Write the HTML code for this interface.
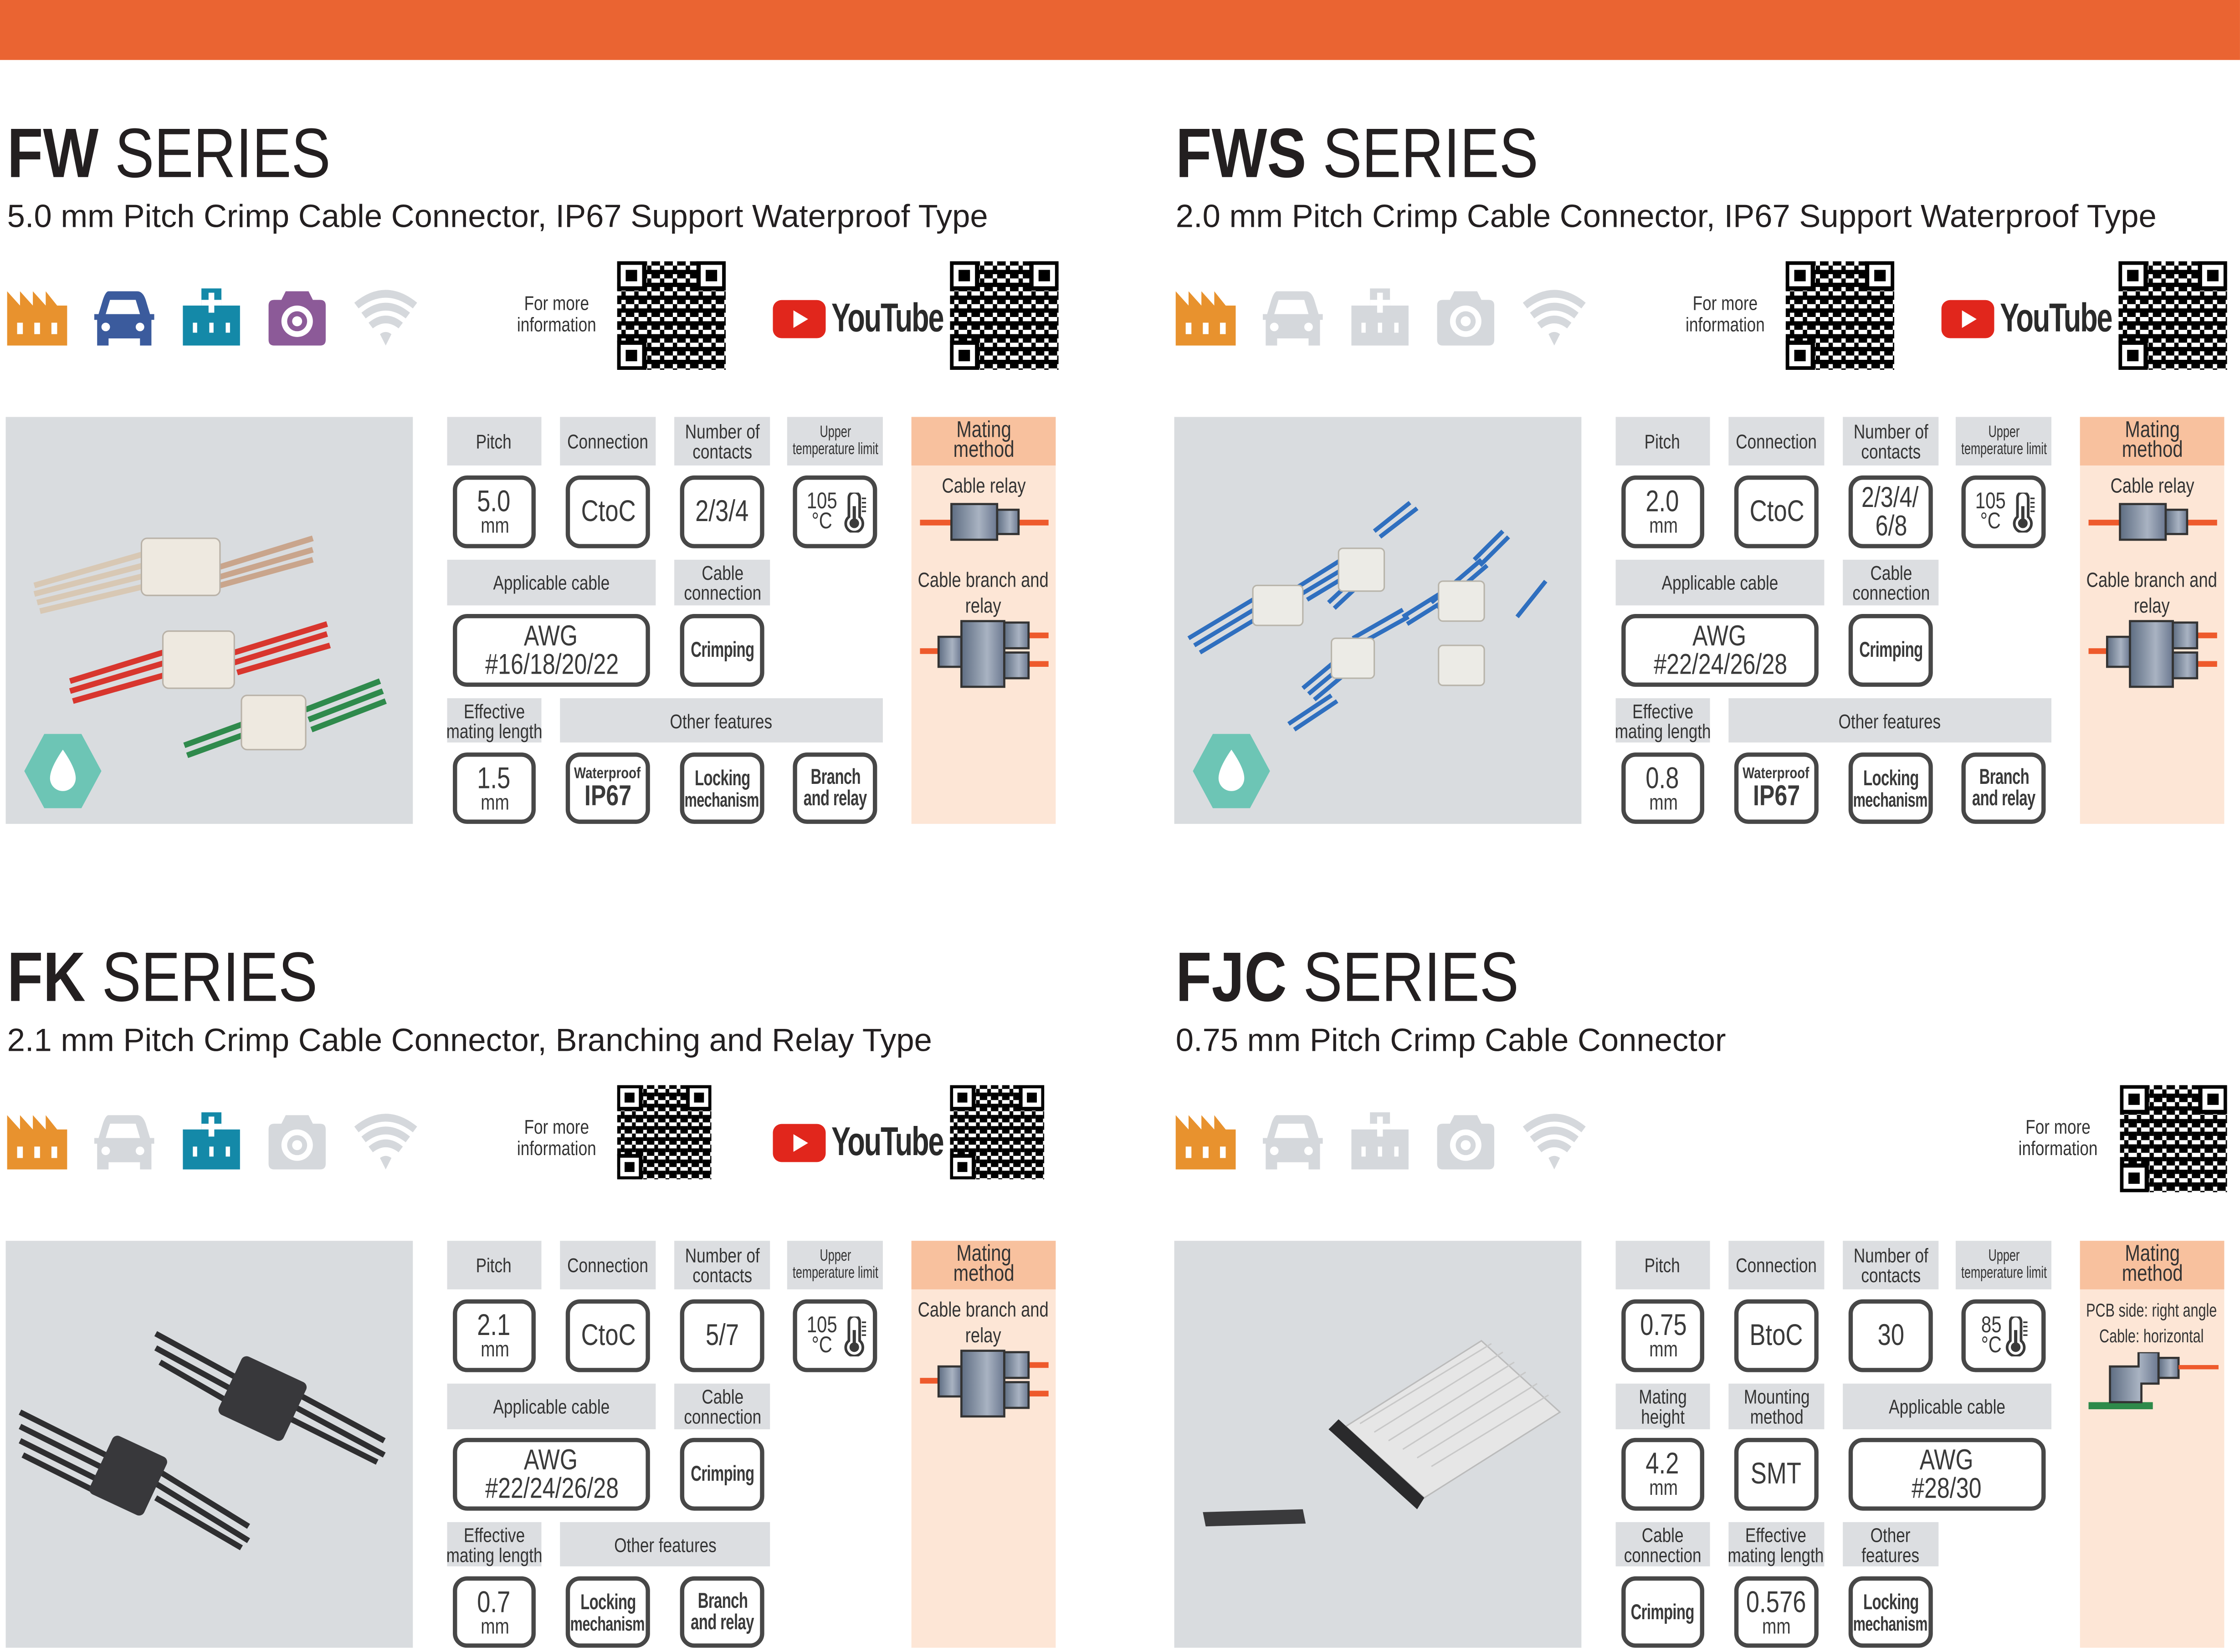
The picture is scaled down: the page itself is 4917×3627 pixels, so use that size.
<!DOCTYPE html>
<html><head><meta charset="utf-8">
<style>
html,body{margin:0;padding:0;background:#fff;width:4917px;height:3624px;overflow:hidden}
#w{position:absolute;left:0;top:0;width:1568px;height:1156px;transform:scale(3.1358,3.1349);transform-origin:0 0;font-family:"Liberation Sans Narrow","Liberation Sans",sans-serif;color:#333}
.s{position:absolute;width:750px;height:580px}
.a{position:absolute}
.t{position:absolute;left:5px;top:80px;font-family:"Liberation Sans",sans-serif;font-size:49px;line-height:56px;color:#231f20;white-space:nowrap;transform:scaleX(.84);transform-origin:0 0}
.st{position:absolute;left:5px;top:139px;font-family:"Liberation Sans",sans-serif;font-size:22.5px;line-height:26px;color:#231f20;white-space:nowrap}
.h{position:absolute;background:#dcdee1;display:flex;flex-direction:column;align-items:center;justify-content:center;text-align:center;font-size:14px;line-height:14px;color:#333}
.h.sm{font-size:11.5px;line-height:12px}
.h>span,.v>span,.mt>span,.fm>span,.mh>span{display:inline-block;white-space:nowrap;transform:scaleX(.8)}
.v{position:absolute;border:3px solid #474747;border-radius:10px;box-sizing:border-box;background:#fff;display:flex;flex-direction:column;align-items:center;justify-content:center;text-align:center;color:#3a3a3a;line-height:1}
.b{font-size:21px}.mm{font-size:15px;margin-top:-1px}
.c{font-size:15px;font-weight:bold;letter-spacing:-.3px}
.v>span.c{transform:scaleX(.7)}
.m{position:absolute;background:#fde6d6}
.mh{position:absolute;background:#f8c19e;display:flex;flex-direction:column;align-items:center;justify-content:center;font-size:16px;line-height:14px;text-align:center}
.mt{position:absolute;display:flex;justify-content:center;text-align:center;font-size:14.5px;line-height:18px;color:#333}
.fm{position:absolute;display:flex;justify-content:center;font-size:14px;line-height:15px;color:#333}
.ph{position:absolute;background:#d9dcdf}
.ic{position:absolute;width:44px;height:44px}
.yt{position:absolute;display:flex;align-items:center}
.yt span{display:inline-block;font-family:"Liberation Sans Narrow","Liberation Sans",sans-serif;font-weight:bold;font-size:28px;color:#2a2a2a;letter-spacing:-1px;margin-left:4px;transform:scaleX(.72);transform-origin:0 50%}
</style></head><body>
<div id="w">
<svg width="0" height="0" style="position:absolute">
<defs>
<symbol id="fac" viewBox="0 0 44 44"><path d="M1 42V4l9 10V4l9 10V4l9 10V4l8 10H43V42Z"/><rect x="8" y="26" width="4" height="8" fill="#fff"/><rect x="20" y="26" width="4" height="8" fill="#fff"/><rect x="32" y="26" width="4" height="8" fill="#fff"/></symbol>
<symbol id="car" viewBox="0 0 44 44"><path d="M12 4h20q4 0 6 6l3 10h3v4h-2v18h-8v-5H12v5H4V24H2v-4h3l3-10q2-6 4-6Z"/><path d="M13 10h18l3 10H10Z" fill="#fff"/><ellipse cx="10" cy="29" rx="3" ry="3" fill="#fff"/><ellipse cx="34" cy="29" rx="3" ry="3" fill="#fff"/></symbol>
<symbol id="hos" viewBox="0 0 44 44"><path d="M15 2h14v12h13v28H2V14h13Z"/><rect x="20" y="5" width="4" height="14" fill="#fff"/><rect x="15" y="10" width="14" height="4" fill="#fff"/><rect x="9" y="26" width="3" height="7" fill="#fff"/><rect x="20.5" y="26" width="3" height="7" fill="#fff"/><rect x="32" y="26" width="3" height="7" fill="#fff"/></symbol>
<symbol id="cam" viewBox="0 0 44 44"><path d="M14 4h16l3 6h5q4 0 4 4v24q0 4-4 4H6q-4 0-4-4V14q0-4 4-4h5Z"/><circle cx="22" cy="25" r="11" fill="#fff"/><circle cx="22" cy="25" r="7"/><circle cx="22" cy="25" r="3.5" fill="#fff"/></symbol>
<symbol id="wifi" viewBox="0 0 44 44"><path d="M22 42l-4-8q4-3 8 0Z"/><path d="M10 26q12-10 24 0l-3 4q-9-7-18 0Z"/><path d="M5 19q17-14 34 0l-3 4q-14-11-28 0Z"/><path d="M0 12q22-18 44 0l-3 4q-19-15-38 0Z"/></symbol>
<pattern id="qrp" width="9" height="9" patternUnits="userSpaceOnUse"><rect width="9" height="9" fill="#fff"/><rect x="0" y="0" width="3" height="3" fill="#000"/><rect x="3" y="3" width="3" height="6" fill="#000"/><rect x="6" y="0" width="3" height="3" fill="#000"/><rect x="0" y="6" width="3" height="3" fill="#000"/><rect x="6" y="6" width="3" height="3" fill="#000"/></pattern>
<symbol id="qr" viewBox="0 0 76 76"><rect width="76" height="76" fill="url(#qrp)"/><g><rect x="0" y="0" width="20" height="20" fill="#fff"/><rect x="1" y="1" width="18" height="18" fill="none" stroke="#000" stroke-width="3"/><rect x="6" y="6" width="8" height="8"/><rect x="56" y="0" width="20" height="20" fill="#fff"/><rect x="57" y="1" width="18" height="18" fill="none" stroke="#000" stroke-width="3"/><rect x="62" y="6" width="8" height="8"/><rect x="0" y="56" width="20" height="20" fill="#fff"/><rect x="1" y="57" width="18" height="18" fill="none" stroke="#000" stroke-width="3"/><rect x="6" y="62" width="8" height="8"/></g></symbol>
<symbol id="therm" viewBox="0 0 24 36"><path d="M7 4a5 5 0 0 1 10 0v18a8 8 0 1 1-10 0Z" fill="#fff" stroke="#3a3a3a" stroke-width="2.5"/><circle cx="12" cy="28" r="4.5" fill="#3a3a3a"/><rect x="10.5" y="12" width="3" height="14" fill="#3a3a3a"/><rect x="19" y="4" width="4" height="1.5" fill="#3a3a3a"/><rect x="19" y="8" width="4" height="1.5" fill="#3a3a3a"/><rect x="19" y="12" width="4" height="1.5" fill="#3a3a3a"/><rect x="19" y="16" width="4" height="1.5" fill="#3a3a3a"/></symbol>
<linearGradient id="bx" x1="0" x2="1"><stop offset="0" stop-color="#5e6d82"/><stop offset=".6" stop-color="#a9b3c2"/><stop offset="1" stop-color="#6b7890"/></linearGradient>
<symbol id="relay" viewBox="0 0 100 30"><rect x="5" y="13" width="90" height="4" fill="#ee5a2c"/><rect x="27" y="2" width="32" height="25" fill="url(#bx)" stroke="#333" stroke-width="1.5"/><rect x="59" y="6" width="15" height="17" fill="url(#bx)" stroke="#333" stroke-width="1.5"/></symbol>
<symbol id="branch" viewBox="0 0 100 50"><rect x="5" y="20" width="20" height="4" fill="#ee5a2c"/><rect x="75" y="9" width="20" height="4" fill="#ee5a2c"/><rect x="75" y="29" width="20" height="4" fill="#ee5a2c"/><rect x="18" y="12" width="16" height="21" fill="url(#bx)" stroke="#333" stroke-width="1.5"/><rect x="34" y="1" width="30" height="46" fill="url(#bx)" stroke="#333" stroke-width="1.5"/><rect x="64" y="2" width="17" height="18" fill="url(#bx)" stroke="#333" stroke-width="1.5"/><rect x="64" y="23" width="17" height="18" fill="url(#bx)" stroke="#333" stroke-width="1.5"/></symbol>
<symbol id="drop" viewBox="0 0 56 56"><path d="M15 2h26l14 26-14 26H15L1 28Z" fill="#6dc5b5"/><path d="M28 13q-9 13-9 20a9 9 0 0 0 18 0q0-7-9-20Z" fill="#fff"/></symbol>
<symbol id="yt" viewBox="0 0 36 26"><rect width="36" height="26" rx="6" fill="#e1261c"/><path d="M14 7v12l10-6Z" fill="#fff"/></symbol>
</defs></svg>

<div class="a" style="left:0;top:0;width:1568px;height:42px;background:#ea6432"></div>

<!-- ================= FW ================= -->
<div class="s" style="left:0;top:0">
<div class="t"><b>FW</b> SERIES</div>
<div class="st">5.0 mm Pitch Crimp Cable Connector, IP67 Support Waterproof Type</div>
<svg class="ic" style="left:4px;top:200px;fill:#e8922e"><use href="#fac"/></svg>
<svg class="ic" style="left:64px;top:200px;fill:#3b5b9d"><use href="#car"/></svg>
<svg class="ic" style="left:126px;top:200px;fill:#1489a8"><use href="#hos"/></svg>
<svg class="ic" style="left:186px;top:200px;fill:#8c5a98"><use href="#cam"/></svg>
<svg class="ic" style="left:248px;top:200px;fill:#d5d8dc"><use href="#wifi"/></svg>
<div class="fm" style="left:350px;top:205px;width:80px;text-align:center"><span>For more<br>information</span></div>
<svg class="a" style="left:432px;top:183px;width:76px;height:76px"><use href="#qr"/></svg>
<div class="yt" style="left:541px;top:207px"><svg width="37" height="27"><use href="#yt"/></svg><span>YouTube</span></div>
<svg class="a" style="left:665px;top:183px;width:76px;height:76px"><use href="#qr"/></svg>
<div class="ph" style="left:4px;top:292px;width:285px;height:285px">
<svg width="285" height="285" style="position:absolute;left:0;top:0">
<g stroke-width="4" fill="none"><path d="M20 118L100 95M20 124L100 103M22 130L102 110M24 136L104 117" stroke="#d8c8b4"/><path d="M150 105L215 85M150 112L215 93M150 118L215 100" stroke="#c9a58c"/>
<path d="M45 185L110 165M45 192L112 172M47 199L114 180" stroke="#d8362e"/><path d="M160 165L225 145M160 172L225 152M162 179L227 160" stroke="#d8362e"/>
<path d="M125 230L180 210M127 237L182 217" stroke="#2f8a4c"/><path d="M210 205L262 185M212 212L264 192M214 219L266 199" stroke="#2f8a4c"/></g>
<g fill="#eee9e0" stroke="#b9b2a8"><rect x="95" y="85" width="55" height="40" rx="4"/><rect x="110" y="150" width="50" height="40" rx="4"/><rect x="165" y="195" width="45" height="38" rx="4"/></g>
<svg x="12" y="220" width="56" height="56"><use href="#drop"/></svg></svg></div>
<div class="h" style="left:313px;top:292px;width:66px;height:34px"><span>Pitch</span></div>
<div class="h" style="left:392px;top:292px;width:67px;height:34px"><span>Connection</span></div>
<div class="h" style="left:472px;top:292px;width:67px;height:34px"><span>Number of<br>contacts</span></div>
<div class="h sm" style="left:551px;top:292px;width:67px;height:34px"><span style="transform:scaleX(.7)">Upper<br>temperature limit</span></div>
<div class="v" style="left:317px;top:333px;width:58px;height:51px"><span class="b">5.0</span><span class="mm">mm</span></div>
<div class="v" style="left:396px;top:333px;width:59px;height:51px"><span class="b">CtoC</span></div>
<div class="v" style="left:476px;top:333px;width:59px;height:51px"><span class="b">2/3/4</span></div>
<div class="v" style="left:555px;top:333px;width:59px;height:51px;flex-direction:row"><span style="font-size:16px;line-height:14px;text-align:center">105<br>°C</span><svg width="18" height="28"><use href="#therm"/></svg></div>
<div class="h" style="left:313px;top:392px;width:146px;height:32px"><span>Applicable cable</span></div>
<div class="h" style="left:472px;top:392px;width:67px;height:32px"><span>Cable<br>connection</span></div>
<div class="v" style="left:317px;top:430px;width:138px;height:51px"><span class="b" style="font-size:20px">AWG</span><span class="b" style="font-size:20px">#16/18/20/22</span></div>
<div class="v" style="left:476px;top:430px;width:59px;height:51px"><span class="c">Crimping</span></div>
<div class="h" style="left:313px;top:489px;width:66px;height:31px"><span>Effective<br>mating length</span></div>
<div class="h" style="left:392px;top:489px;width:226px;height:31px"><span>Other features</span></div>
<div class="v" style="left:317px;top:527px;width:58px;height:50px"><span class="b">1.5</span><span class="mm">mm</span></div>
<div class="v" style="left:396px;top:527px;width:59px;height:50px"><span style="font-size:11px;font-weight:bold">Waterproof</span><span class="b" style="font-weight:bold;font-size:20px">IP67</span></div>
<div class="v" style="left:476px;top:527px;width:59px;height:50px"><span class="c">Locking</span><span class="c" style="font-size:14px">mechanism</span></div>
<div class="v" style="left:555px;top:527px;width:59px;height:50px"><span class="c">Branch</span><span class="c">and relay</span></div>
<div class="m" style="left:638px;top:292px;width:101px;height:285px"></div>
<div class="mh" style="left:638px;top:292px;width:101px;height:34px"><span>Mating<br>method</span></div>
<div class="mt" style="left:638px;top:332px;width:101px"><span>Cable relay</span></div>
<svg class="a" style="left:639px;top:351px;width:100px;height:30px"><use href="#relay"/></svg>
<div class="mt" style="left:638px;top:398px;width:101px"><span>Cable branch and<br>relay</span></div>
<svg class="a" style="left:639px;top:434px;width:100px;height:50px"><use href="#branch"/></svg>
</div>

<!-- ================= FWS ================= -->
<div class="s" style="left:818px;top:0">
<div class="t"><b>FWS</b> SERIES</div>
<div class="st">2.0 mm Pitch Crimp Cable Connector, IP67 Support Waterproof Type</div>
<svg class="ic" style="left:4px;top:200px;fill:#e8922e"><use href="#fac"/></svg>
<svg class="ic" style="left:64px;top:200px;fill:#d5d8dc"><use href="#car"/></svg>
<svg class="ic" style="left:126px;top:200px;fill:#d5d8dc"><use href="#hos"/></svg>
<svg class="ic" style="left:186px;top:200px;fill:#d5d8dc"><use href="#cam"/></svg>
<svg class="ic" style="left:248px;top:200px;fill:#d5d8dc"><use href="#wifi"/></svg>
<div class="fm" style="left:350px;top:205px;width:80px;text-align:center"><span>For more<br>information</span></div>
<svg class="a" style="left:432px;top:183px;width:76px;height:76px"><use href="#qr"/></svg>
<div class="yt" style="left:541px;top:207px"><svg width="37" height="27"><use href="#yt"/></svg><span>YouTube</span></div>
<svg class="a" style="left:665px;top:183px;width:76px;height:76px"><use href="#qr"/></svg>
<div class="ph" style="left:4px;top:292px;width:285px;height:285px">
<svg width="285" height="285" style="position:absolute;left:0;top:0">
<g stroke="#2f6fbf" stroke-width="3" fill="none"><path d="M10 155L60 125M14 160L64 130M18 165L68 135"/><path d="M85 120L125 95M89 124L129 100M93 128L133 104"/><path d="M108 130L140 100M112 134L144 104"/><path d="M140 80L165 60M144 84L170 64"/><path d="M90 190L120 165M94 194L124 169M98 198L128 173"/><path d="M125 155L160 135M128 160L164 140"/><path d="M160 140L200 115M163 145L203 120"/><path d="M180 130L215 100M184 134L219 104"/><path d="M210 100L230 80M214 104L234 84"/><path d="M80 215L110 195M84 219L114 199"/><path d="M240 140L260 115"/></g>
<g fill="#ecebe6" stroke="#b8b4aa"><rect x="55" y="118" width="35" height="28" rx="3"/><rect x="115" y="92" width="32" height="30" rx="3"/><rect x="110" y="155" width="30" height="28" rx="3"/><rect x="185" y="115" width="32" height="28" rx="3"/><rect x="185" y="160" width="32" height="28" rx="3"/></g>
<svg x="12" y="220" width="56" height="56"><use href="#drop"/></svg></svg></div>
<div class="h" style="left:313px;top:292px;width:66px;height:34px"><span>Pitch</span></div>
<div class="h" style="left:392px;top:292px;width:67px;height:34px"><span>Connection</span></div>
<div class="h" style="left:472px;top:292px;width:67px;height:34px"><span>Number of<br>contacts</span></div>
<div class="h sm" style="left:551px;top:292px;width:67px;height:34px"><span style="transform:scaleX(.7)">Upper<br>temperature limit</span></div>
<div class="v" style="left:317px;top:333px;width:58px;height:51px"><span class="b">2.0</span><span class="mm">mm</span></div>
<div class="v" style="left:396px;top:333px;width:59px;height:51px"><span class="b">CtoC</span></div>
<div class="v" style="left:476px;top:333px;width:59px;height:51px"><span class="b" style="font-size:20px">2/3/4/</span><span class="b" style="font-size:20px">6/8</span></div>
<div class="v" style="left:555px;top:333px;width:59px;height:51px;flex-direction:row"><span style="font-size:16px;line-height:14px;text-align:center">105<br>°C</span><svg width="18" height="28"><use href="#therm"/></svg></div>
<div class="h" style="left:313px;top:392px;width:146px;height:32px"><span>Applicable cable</span></div>
<div class="h" style="left:472px;top:392px;width:67px;height:32px"><span>Cable<br>connection</span></div>
<div class="v" style="left:317px;top:430px;width:138px;height:51px"><span class="b" style="font-size:20px">AWG</span><span class="b" style="font-size:20px">#22/24/26/28</span></div>
<div class="v" style="left:476px;top:430px;width:59px;height:51px"><span class="c">Crimping</span></div>
<div class="h" style="left:313px;top:489px;width:66px;height:31px"><span>Effective<br>mating length</span></div>
<div class="h" style="left:392px;top:489px;width:226px;height:31px"><span>Other features</span></div>
<div class="v" style="left:317px;top:527px;width:58px;height:50px"><span class="b">0.8</span><span class="mm">mm</span></div>
<div class="v" style="left:396px;top:527px;width:59px;height:50px"><span style="font-size:11px;font-weight:bold">Waterproof</span><span class="b" style="font-weight:bold;font-size:20px">IP67</span></div>
<div class="v" style="left:476px;top:527px;width:59px;height:50px"><span class="c">Locking</span><span class="c" style="font-size:14px">mechanism</span></div>
<div class="v" style="left:555px;top:527px;width:59px;height:50px"><span class="c">Branch</span><span class="c">and relay</span></div>
<div class="m" style="left:638px;top:292px;width:101px;height:285px"></div>
<div class="mh" style="left:638px;top:292px;width:101px;height:34px"><span>Mating<br>method</span></div>
<div class="mt" style="left:638px;top:332px;width:101px"><span>Cable relay</span></div>
<svg class="a" style="left:639px;top:351px;width:100px;height:30px"><use href="#relay"/></svg>
<div class="mt" style="left:638px;top:398px;width:101px"><span>Cable branch and<br>relay</span></div>
<svg class="a" style="left:639px;top:434px;width:100px;height:50px"><use href="#branch"/></svg>
</div>

<!-- ================= FK ================= -->
<div class="s" style="left:0;top:577px">
<div class="t"><b>FK</b> SERIES</div>
<div class="st">2.1 mm Pitch Crimp Cable Connector, Branching and Relay Type</div>
<svg class="ic" style="left:4px;top:200px;fill:#e8922e"><use href="#fac"/></svg>
<svg class="ic" style="left:64px;top:200px;fill:#d5d8dc"><use href="#car"/></svg>
<svg class="ic" style="left:126px;top:200px;fill:#1489a8"><use href="#hos"/></svg>
<svg class="ic" style="left:186px;top:200px;fill:#d5d8dc"><use href="#cam"/></svg>
<svg class="ic" style="left:248px;top:200px;fill:#d5d8dc"><use href="#wifi"/></svg>
<div class="fm" style="left:350px;top:205px;width:80px;text-align:center"><span>For more<br>information</span></div>
<svg class="a" style="left:432px;top:183px;width:66px;height:66px"><use href="#qr"/></svg>
<div class="yt" style="left:541px;top:207px"><svg width="37" height="27"><use href="#yt"/></svg><span>YouTube</span></div>
<svg class="a" style="left:665px;top:183px;width:66px;height:66px"><use href="#qr"/></svg>
<div class="ph" style="left:4px;top:292px;width:285px;height:285px">
<svg width="285" height="285" style="position:absolute;left:0;top:0">
<g stroke="#2e2e30" stroke-width="4" fill="none"><path d="M10 120L70 150M10 130L70 160M10 140L70 170M12 150L72 180"/><path d="M105 160L170 200M105 170L170 210M105 180L165 215"/><path d="M105 65L160 95M105 75L160 105M108 85L160 115"/><path d="M200 105L265 140M200 115L265 150M200 125L260 155"/></g>
<g fill="#38383b"><rect x="65" y="142" width="42" height="45" rx="4" transform="rotate(25 86 164)"/><rect x="155" y="88" width="50" height="45" rx="4" transform="rotate(25 180 110)"/></g>
</svg></div>
<div class="h" style="left:313px;top:292px;width:66px;height:34px"><span>Pitch</span></div>
<div class="h" style="left:392px;top:292px;width:67px;height:34px"><span>Connection</span></div>
<div class="h" style="left:472px;top:292px;width:67px;height:34px"><span>Number of<br>contacts</span></div>
<div class="h sm" style="left:551px;top:292px;width:67px;height:34px"><span style="transform:scaleX(.7)">Upper<br>temperature limit</span></div>
<div class="v" style="left:317px;top:333px;width:58px;height:51px"><span class="b">2.1</span><span class="mm">mm</span></div>
<div class="v" style="left:396px;top:333px;width:59px;height:51px"><span class="b">CtoC</span></div>
<div class="v" style="left:476px;top:333px;width:59px;height:51px"><span class="b">5/7</span></div>
<div class="v" style="left:555px;top:333px;width:59px;height:51px;flex-direction:row"><span style="font-size:16px;line-height:14px;text-align:center">105<br>°C</span><svg width="18" height="28"><use href="#therm"/></svg></div>
<div class="h" style="left:313px;top:392px;width:146px;height:32px"><span>Applicable cable</span></div>
<div class="h" style="left:472px;top:392px;width:67px;height:32px"><span>Cable<br>connection</span></div>
<div class="v" style="left:317px;top:430px;width:138px;height:51px"><span class="b" style="font-size:20px">AWG</span><span class="b" style="font-size:20px">#22/24/26/28</span></div>
<div class="v" style="left:476px;top:430px;width:59px;height:51px"><span class="c">Crimping</span></div>
<div class="h" style="left:313px;top:489px;width:66px;height:31px"><span>Effective<br>mating length</span></div>
<div class="h" style="left:392px;top:489px;width:147px;height:31px"><span>Other features</span></div>
<div class="v" style="left:317px;top:527px;width:58px;height:50px"><span class="b">0.7</span><span class="mm">mm</span></div>
<div class="v" style="left:396px;top:527px;width:59px;height:50px"><span class="c">Locking</span><span class="c" style="font-size:14px">mechanism</span></div>
<div class="v" style="left:476px;top:527px;width:59px;height:50px"><span class="c">Branch</span><span class="c">and relay</span></div>
<div class="m" style="left:638px;top:292px;width:101px;height:285px"></div>
<div class="mh" style="left:638px;top:292px;width:101px;height:34px"><span>Mating<br>method</span></div>
<div class="mt" style="left:638px;top:332px;width:101px"><span>Cable branch and<br>relay</span></div>
<svg class="a" style="left:639px;top:368px;width:100px;height:50px"><use href="#branch"/></svg>
</div>

<!-- ================= FJC ================= -->
<div class="s" style="left:818px;top:577px">
<div class="t"><b>FJC</b> SERIES</div>
<div class="st">0.75 mm Pitch Crimp Cable Connector</div>
<svg class="ic" style="left:4px;top:200px;fill:#e8922e"><use href="#fac"/></svg>
<svg class="ic" style="left:64px;top:200px;fill:#d5d8dc"><use href="#car"/></svg>
<svg class="ic" style="left:126px;top:200px;fill:#d5d8dc"><use href="#hos"/></svg>
<svg class="ic" style="left:186px;top:200px;fill:#d5d8dc"><use href="#cam"/></svg>
<svg class="ic" style="left:248px;top:200px;fill:#d5d8dc"><use href="#wifi"/></svg>
<div class="fm" style="left:583px;top:205px;width:80px;text-align:center"><span>For more<br>information</span></div>
<svg class="a" style="left:666px;top:183px;width:75px;height:75px"><use href="#qr"/></svg>
<div class="ph" style="left:4px;top:292px;width:285px;height:285px">
<svg width="285" height="285" style="position:absolute;left:0;top:0">
<path d="M120 130L215 70L270 120L175 180Z" fill="#e6e6e6" stroke="#bbb"/>
<g stroke="#c8c8c8" stroke-width="1"><path d="M130 128L222 72M140 134L230 78M150 140L238 85M160 146L246 92M170 152L254 100M180 158L262 108"/></g>
<path d="M115 125L175 180L170 188L108 132Z" fill="#2a2a2c"/>
<path d="M20 190L90 188L92 198L22 200Z" fill="#3a3a3c"/>
</svg></div>
<div class="h" style="left:313px;top:292px;width:66px;height:34px"><span>Pitch</span></div>
<div class="h" style="left:392px;top:292px;width:67px;height:34px"><span>Connection</span></div>
<div class="h" style="left:472px;top:292px;width:67px;height:34px"><span>Number of<br>contacts</span></div>
<div class="h sm" style="left:551px;top:292px;width:67px;height:34px"><span style="transform:scaleX(.7)">Upper<br>temperature limit</span></div>
<div class="v" style="left:317px;top:333px;width:58px;height:51px"><span class="b">0.75</span><span class="mm">mm</span></div>
<div class="v" style="left:396px;top:333px;width:59px;height:51px"><span class="b">BtoC</span></div>
<div class="v" style="left:476px;top:333px;width:59px;height:51px"><span class="b">30</span></div>
<div class="v" style="left:555px;top:333px;width:59px;height:51px;flex-direction:row"><span style="font-size:16px;line-height:14px;text-align:center">85<br>°C</span><svg width="18" height="28"><use href="#therm"/></svg></div>
<div class="h" style="left:313px;top:392px;width:66px;height:32px"><span>Mating<br>height</span></div>
<div class="h" style="left:392px;top:392px;width:67px;height:32px"><span>Mounting<br>method</span></div>
<div class="h" style="left:472px;top:392px;width:146px;height:32px"><span>Applicable cable</span></div>
<div class="v" style="left:317px;top:430px;width:58px;height:51px"><span class="b">4.2</span><span class="mm">mm</span></div>
<div class="v" style="left:396px;top:430px;width:59px;height:51px"><span class="b">SMT</span></div>
<div class="v" style="left:476px;top:430px;width:138px;height:51px"><span class="b" style="font-size:20px">AWG</span><span class="b" style="font-size:20px">#28/30</span></div>
<div class="h" style="left:313px;top:489px;width:66px;height:31px"><span>Cable<br>connection</span></div>
<div class="h" style="left:392px;top:489px;width:67px;height:31px"><span>Effective<br>mating length</span></div>
<div class="h" style="left:472px;top:489px;width:67px;height:31px"><span>Other<br>features</span></div>
<div class="v" style="left:317px;top:527px;width:58px;height:50px"><span class="c">Crimping</span></div>
<div class="v" style="left:396px;top:527px;width:59px;height:50px"><span class="b">0.576</span><span class="mm">mm</span></div>
<div class="v" style="left:476px;top:527px;width:59px;height:50px"><span class="c">Locking</span><span class="c" style="font-size:14px">mechanism</span></div>
<div class="m" style="left:638px;top:292px;width:101px;height:285px"></div>
<div class="mh" style="left:638px;top:292px;width:101px;height:34px"><span>Mating<br>method</span></div>
<div class="mt" style="left:634px;top:332px;width:109px;font-size:13px;line-height:18px"><span style="transform:scaleX(.75)">PCB side: right angle<br>Cable: horizontal</span></div>
<svg class="a" style="left:639px;top:370px;width:100px;height:40px" viewBox="0 0 100 40"><rect x="5" y="35" width="45" height="5" fill="#2e8a4a"/><path d="M20 35V10h20V0h14v22H42v13Z" fill="url(#bx)" stroke="#333" stroke-width="1.5"/><rect x="54" y="4" width="14" height="14" fill="url(#bx)" stroke="#333" stroke-width="1.5"/><rect x="68" y="9" width="28" height="3" fill="#ee5a2c"/></svg>
</div>

</div>
</body></html>
